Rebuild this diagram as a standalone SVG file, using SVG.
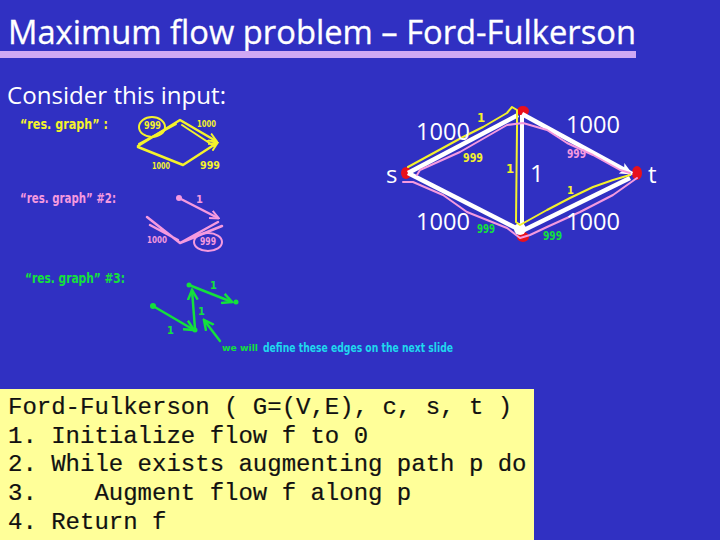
<svg xmlns="http://www.w3.org/2000/svg" width="720" height="540" viewBox="0 0 720 540">
<style>
.ui{font-family:"Open Sans","DejaVu Sans",sans-serif;fill:#fff}
.cap{font-family:"Open Sans","Liberation Sans",sans-serif;font-size:24px;fill:#fff}
.code{font-family:"Liberation Mono","Courier New",monospace;font-size:24px;fill:#111;stroke:#111;stroke-width:.2;white-space:pre}
.hw{font-family:"DejaVu Sans Condensed","DejaVu Sans",sans-serif;font-weight:bold}
.y{fill:#f4f22c}.p{fill:#f59adf}.g{fill:#14e03c}.c{fill:#1fd8ee}
.e{fill:none;stroke:#fff;stroke-width:4.5}
.sy{fill:none;stroke:#f4f22c;stroke-width:2;stroke-linecap:round;stroke-linejoin:round}
.sp{fill:none;stroke:#f59adf;stroke-width:2;stroke-linecap:round;stroke-linejoin:round}
.sg{fill:none;stroke:#14e03c;stroke-width:2.5;stroke-linecap:round;stroke-linejoin:round}
</style>
<defs>
<marker id="w" markerUnits="userSpaceOnUse" markerWidth="14" markerHeight="12" refX="12" refY="6" orient="auto"><path d="M0 0L13 6L0 12L3 6Z" fill="#fff"/></marker>
<marker id="ym" markerUnits="userSpaceOnUse" markerWidth="10" markerHeight="10" refX="8" refY="5" orient="auto"><path d="M0 1L9 5L0 9" fill="none" stroke="#f4f22c" stroke-width="2"/></marker>
<marker id="pm" markerUnits="userSpaceOnUse" markerWidth="10" markerHeight="10" refX="8" refY="5" orient="auto"><path d="M0 1L9 5L0 9" fill="none" stroke="#f59adf" stroke-width="2"/></marker>
<marker id="gm" markerUnits="userSpaceOnUse" markerWidth="12" markerHeight="12" refX="10" refY="6" orient="auto"><path d="M0 1L10 6L0 11" fill="none" stroke="#14e03c" stroke-width="2.5"/></marker>
</defs>
<rect width="720" height="540" fill="#3030c2"/>
<g id="title">
<text class="ui" x="8" y="44" font-size="32" stroke="#fff" stroke-width=".3" textLength="628" lengthAdjust="spacingAndGlyphs">Maximum flow problem – Ford-Fulkerson</text>
<rect x="0" y="51" width="636" height="7" fill="#cfa8f4"/>
</g>
<text class="ui" x="7" y="104" font-size="24" textLength="219" lengthAdjust="spacingAndGlyphs">Consider this input:</text>

<g id="node-s"><ellipse cx="406" cy="173" rx="5" ry="6" fill="#e8101c"/><text class="cap" x="386" y="183" font-size="20">s</text></g>
<g id="node-a"><ellipse cx="523" cy="111" rx="6" ry="5" fill="#e8101c"/></g>
<g id="node-t"><ellipse cx="637" cy="173" rx="5" ry="7" fill="#e8101c"/><text class="cap" x="648" y="183" font-size="20">t</text></g>
<g id="node-b"><ellipse cx="523" cy="237" rx="6" ry="5" fill="#e8101c"/></g>
<g id="connectors">
<path class="e" d="M408 173L518 115"/>
<path class="e" d="M408 173L518 229"/>
<path class="e" d="M522 115L522 228" style="stroke-width:4"/>
<path class="e" d="M522 114L632 174" marker-end="url(#w)"/>
<path class="e" d="M522 231L630 178"/>
<circle cx="520" cy="229" r="6" fill="#fff"/>
<path d="M408 167L430 155L463 137L483 127L507 113L512 107L517 110L517 128L516 222L520 225L547 210L570 198L593 187L613 180L630 175" class="sy"/>
<path d="M403 182L413 182L443 195L467 212L507 228L520 238L530 235L547 227L580 212L613 195L637 178M417 175L420 170L460 152L507 125L523 123L547 130L567 143L593 155L620 170L630 173" class="sp"/>
</g>
<text class="cap" x="416" y="140" textLength="54" lengthAdjust="spacingAndGlyphs">1000</text>
<text class="cap" x="566" y="133" textLength="54" lengthAdjust="spacingAndGlyphs">1000</text>
<text class="cap" x="416" y="230" textLength="54" lengthAdjust="spacingAndGlyphs">1000</text>
<text class="cap" x="566" y="230" textLength="54" lengthAdjust="spacingAndGlyphs">1000</text>
<text class="cap" x="530" y="182">1</text>
<text class="hw y" x="477" y="122" font-size="13">1</text>
<text class="hw y" x="506" y="173" font-size="13">1</text>
<text class="hw y" x="567" y="194" font-size="11">1</text>
<text class="hw y" x="463" y="162" font-size="13" textLength="20" lengthAdjust="spacingAndGlyphs">999</text>
<text class="hw p" x="567" y="158" font-size="13" textLength="19" lengthAdjust="spacingAndGlyphs">999</text>
<text class="hw g" x="477" y="233" font-size="13" textLength="18" lengthAdjust="spacingAndGlyphs">999</text>
<text class="hw g" x="543" y="240" font-size="13" textLength="19" lengthAdjust="spacingAndGlyphs">999</text>

<g id="res1">
<text class="hw y" x="20" y="129" font-size="14" textLength="88" lengthAdjust="spacingAndGlyphs">“res. graph” :</text>
<path class="sy" style="stroke-width:2.5" d="M138 146L180 120L216 141" marker-end="url(#ym)"/>
<path class="sy" d="M139 144L176 124M182 125L214 146"/>
<path class="sy" style="stroke-width:2.5" d="M138 147L183 165L217 143" marker-end="url(#ym)"/>
<ellipse class="sy" cx="152" cy="127" rx="13" ry="10"/>
<text class="hw y" x="144" y="129" font-size="10" textLength="17" lengthAdjust="spacingAndGlyphs">999</text>
<text class="hw y" x="197" y="127" font-size="9" textLength="19" lengthAdjust="spacingAndGlyphs">1000</text>
<text class="hw y" x="152" y="169" font-size="9" textLength="18" lengthAdjust="spacingAndGlyphs">1000</text>
<text class="hw y" x="200" y="169" font-size="10" textLength="20" lengthAdjust="spacingAndGlyphs">999</text>
</g>
<g id="res2">
<text class="hw p" x="20" y="203" font-size="14" textLength="96" lengthAdjust="spacingAndGlyphs">“res. graph” #2:</text>
<circle cx="179" cy="198" r="3" fill="#f59adf"/>
<path class="sp" style="stroke-width:2.5" d="M179 198L218 218" marker-end="url(#pm)"/>
<path class="sp" style="stroke-width:2.5" d="M147 217L180 243L222 226M150 225L178 240M180 243L218 222"/>
<ellipse class="sp" cx="208" cy="242" rx="14" ry="9"/>
<text class="hw p" x="196" y="203" font-size="11">1</text>
<text class="hw p" x="147" y="243" font-size="9" textLength="20" lengthAdjust="spacingAndGlyphs">1000</text>
<text class="hw p" x="200" y="245" font-size="10" textLength="16" lengthAdjust="spacingAndGlyphs">999</text>
</g>
<g id="res3">
<text class="hw g" x="25" y="283" font-size="14" textLength="100" lengthAdjust="spacingAndGlyphs">“res. graph” #3:</text>
<circle cx="153" cy="306" r="3" fill="#14e03c"/>
<circle cx="195" cy="330" r="2.5" fill="#14e03c"/>
<circle cx="189" cy="285" r="2.5" fill="#14e03c"/>
<circle cx="236" cy="302" r="2.5" fill="#14e03c"/>
<path class="sg" d="M153 306L194 330" marker-end="url(#gm)"/>
<path class="sg" d="M195 329L192 290" marker-end="url(#gm)"/>
<path class="sg" d="M189 285L232 302" marker-end="url(#gm)"/>
<path class="sg" d="M220 341L204 320" marker-end="url(#gm)"/>
<text class="hw g" x="210" y="289" font-size="11">1</text>
<text class="hw g" x="198" y="315" font-size="11">1</text>
<text class="hw g" x="167" y="334" font-size="11">1</text>
<text class="hw g" x="222" y="351" font-size="9" textLength="36" lengthAdjust="spacingAndGlyphs">we will</text>
<text class="hw c" x="263" y="352" font-size="13" textLength="190" lengthAdjust="spacingAndGlyphs">define these edges on the next slide</text>
</g>

<g id="code">
<rect x="0" y="389" width="534" height="151" fill="#ffff99"/>
<text class="code" x="8" y="414">Ford-Fulkerson ( G=(V,E), c, s, t )</text>
<text class="code" x="8" y="443">1. Initialize flow f to 0</text>
<text class="code" x="8" y="471">2. While exists augmenting path p do</text>
<text class="code" x="8" y="500" xml:space="preserve">3.    Augment flow f along p</text>
<text class="code" x="8" y="529">4. Return f</text>
</g>
</svg>
